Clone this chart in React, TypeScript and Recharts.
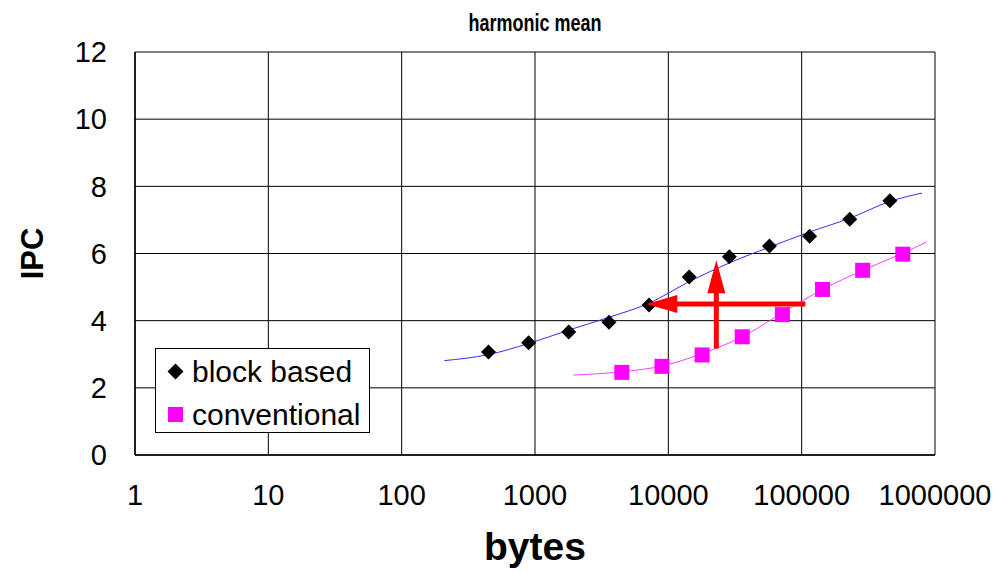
import React from 'react';
import {
  ComposedChart,
  Scatter,
  XAxis,
  YAxis,
  CartesianGrid,
  Legend,
} from 'recharts';

// ---- data ----
const blockX = [448, 896, 1792, 3584, 7168, 14336, 28672, 57344, 114688, 229376, 458752];
const blockY = [3.07, 3.34, 3.66, 3.95, 4.47, 5.3, 5.9, 6.22, 6.51, 7.02, 7.57];

const convX = [4480, 8960, 17920, 35840, 71680, 143360, 286720, 573440];
const convY = [2.46, 2.64, 2.98, 3.52, 4.18, 4.93, 5.5, 5.98];

const blockTrendX = [209, 448, 896, 1792, 3584, 7168, 14336, 28672, 57344, 114688, 229376, 458752, 800000];
const blockTrendY = [2.81, 2.99, 3.32, 3.72, 4.1, 4.52, 5.16, 5.72, 6.19, 6.64, 7.05, 7.55, 7.8];

const convTrendX = [1937, 4480, 8960, 17920, 35840, 71680, 143360, 286720, 573440, 861000];
const convTrendY = [2.38, 2.48, 2.65, 3.02, 3.52, 4.23, 4.93, 5.5, 6.01, 6.34];

// red annotation arrows (data coordinates)
const arrowHShaftX = [106600, 11600];
const arrowHY = 4.5;
const arrowHTipX = 6840;
const arrowVX = 22900;
const arrowVShaftY = [3.17, 4.83];
const arrowVTipY = 5.8;

const xTicks = [1, 10, 100, 1000, 10000, 100000, 1000000];
const yTicks = [0, 2, 4, 6, 8, 10, 12];

const seriesNames = ['block based', 'conventional'];
const titleText = 'harmonic mean';
const xLabel = 'bytes';
const yLabel = 'IPC';

const zip = (xs: number[], ys: number[]) => xs.map((x, i) => ({ x, y: ys[i] }));

const blockData = zip(blockX, blockY);
const convData = zip(convX, convY);
const blockTrend = zip(blockTrendX, blockTrendY);
const convTrend = zip(convTrendX, convTrendY);
const arrowHShaft = arrowHShaftX.map((x) => ({ x, y: arrowHY }));
const arrowHTip = [{ x: arrowHTipX, y: arrowHY }];
const arrowVShaft = arrowVShaftY.map((y) => ({ x: arrowVX, y }));
const arrowVTip = [{ x: arrowVX, y: arrowVTipY }];

const FONT = '"Liberation Sans", Arial, Helvetica, sans-serif';

const Diamond = (props: any) => {
  const { cx, cy } = props;
  if (cx == null || cy == null) return <g />;
  const r = 7.5;
  return (
    <polygon
      points={`${cx},${cy - r} ${cx + r},${cy} ${cx},${cy + r} ${cx - r},${cy}`}
      fill="#000000"
    />
  );
};

const Square = (props: any) => {
  const { cx, cy } = props;
  if (cx == null || cy == null) return <g />;
  const r = 7.5;
  return <rect x={cx - r} y={cy - r} width={2 * r} height={2 * r} fill="#FF00FF" />;
};

const NoShape = () => <g />;

const HeadLeft = (props: any) => {
  const { cx, cy } = props;
  if (cx == null || cy == null) return <g />;
  return <polygon points={`${cx},${cy} ${cx + 31},${cy - 9} ${cx + 31},${cy + 9}`} fill="#FF0000" />;
};

const HeadUp = (props: any) => {
  const { cx, cy } = props;
  if (cx == null || cy == null) return <g />;
  return <polygon points={`${cx},${cy} ${cx - 9},${cy + 33} ${cx + 9},${cy + 33}`} fill="#FF0000" />;
};

const YAxisLabel = (props: any) => {
  const vb = props.viewBox || { x: 0, y: 52, width: 135, height: 403 };
  const cx = vb.x + 32;
  const cy = vb.y + vb.height / 2;
  return (
    <text
      x={cx}
      y={cy}
      transform={`rotate(-90, ${cx}, ${cy})`}
      textAnchor="middle"
      dominantBaseline="central"
      fontFamily={FONT}
      fontWeight="bold"
      fontSize={31}
      fill="#000"
    >
      {yLabel}
    </text>
  );
};

const XAxisLabel = (props: any) => {
  const vb = props.viewBox || { x: 135, y: 455, width: 800, height: 118 };
  return (
    <text
      x={vb.x + vb.width / 2}
      y={vb.y + 105}
      textAnchor="middle"
      fontFamily={FONT}
      fontWeight="bold"
      fontSize={39}
      fill="#000"
    >
      {xLabel}
    </text>
  );
};

const LegendContent = (props: any) => {
  const payload = (props.payload || []).filter((p: any) => seriesNames.includes(p.value));
  return (
    <div
      style={{
        position: 'relative',
        width: 215,
        height: 85,
        background: '#fff',
        border: '1px solid #000',
        boxSizing: 'border-box',
        fontFamily: FONT,
      }}
    >
      {payload.map((p: any, i: number) => (
        <div
          key={p.value}
          style={{
            position: 'absolute',
            left: 11,
            top: 1 + i * 43,
            height: 43,
            display: 'flex',
            alignItems: 'center',
            whiteSpace: 'nowrap',
          }}
        >
          <svg width={17} height={17} style={{ marginRight: 8 }}>
            {p.value === seriesNames[0] ? (
              <polygon points="8.5,0.5 16.5,8.5 8.5,16.5 0.5,8.5" fill="#000" />
            ) : (
              <rect x={1} y={1} width={15} height={15} fill="#FF00FF" />
            )}
          </svg>
          <span style={{ fontSize: 30, lineHeight: '30px', color: '#000' }}>{p.value}</span>
        </div>
      ))}
    </div>
  );
};

export default function App() {
  return (
    <div
      style={{
        position: 'absolute',
        left: 0,
        top: 0,
        width: 998,
        height: 573,
        background: '#fff',
        fontFamily: FONT,
      }}
    >
      <div
        style={{
          position: 'absolute',
          left: 385,
          width: 300,
          top: 11,
          textAlign: 'center',
          fontWeight: 'bold',
          fontSize: 24,
          lineHeight: '24px',
          color: '#000',
          fontFamily: FONT,
          transform: 'scaleX(0.75)',
          transformOrigin: '150px 0',
          zIndex: 2,
        }}
      >
        {titleText}
      </div>
      <ComposedChart
        width={998}
        height={573}
        margin={{ top: 52, right: 63, bottom: 0, left: 0 }}
        style={{ position: 'absolute', left: 0, top: 0 }}
      >
        <CartesianGrid stroke="#000" strokeWidth={1} />
        <XAxis
          type="number"
          dataKey="x"
          scale="log"
          domain={[1, 1000000]}
          allowDataOverflow
          ticks={xTicks}
          interval={0}
          height={118}
          tickSize={0}
          tickMargin={29}
          axisLine={{ stroke: '#000', strokeWidth: 1.5 }}
          tickLine={false}
          tick={{ fill: '#000', fontSize: 29, fontFamily: FONT }}
          label={<XAxisLabel />}
        />
        <YAxis
          type="number"
          dataKey="y"
          domain={[0, 12]}
          allowDataOverflow
          ticks={yTicks}
          interval={0}
          width={135}
          tickSize={0}
          tickMargin={28}
          axisLine={{ stroke: '#000', strokeWidth: 1.5 }}
          tickLine={false}
          tick={{ fill: '#000', fontSize: 29, fontFamily: FONT }}
          label={<YAxisLabel />}
        />
        <Legend
          layout="vertical"
          align="center"
          verticalAlign="middle"
          content={<LegendContent />}
          wrapperStyle={{ position: 'absolute', left: 155, top: 348, width: 215, height: 85 }}
        />
        <Scatter
          name="block trend"
          data={blockTrend}
          line={{ stroke: '#3030FF', strokeWidth: 1 }}
          lineJointType="monotoneX"
          shape={NoShape}
          legendType="none"
          isAnimationActive={false}
        />
        <Scatter
          name="conventional trend"
          data={convTrend}
          line={{ stroke: '#FF40FF', strokeWidth: 1 }}
          lineJointType="monotoneX"
          shape={NoShape}
          legendType="none"
          isAnimationActive={false}
        />
        <Scatter
          name={seriesNames[0]}
          data={blockData}
          fill="#000"
          shape={Diamond}
          isAnimationActive={false}
        />
        <Scatter
          name={seriesNames[1]}
          data={convData}
          fill="#FF00FF"
          shape={Square}
          isAnimationActive={false}
        />
        <Scatter
          name="arrow h"
          data={arrowHShaft}
          line={{ stroke: '#FF0000', strokeWidth: 5 }}
          lineJointType="linear"
          shape={NoShape}
          legendType="none"
          isAnimationActive={false}
        />
        <Scatter
          name="arrow h head"
          data={arrowHTip}
          shape={HeadLeft}
          legendType="none"
          isAnimationActive={false}
        />
        <Scatter
          name="arrow v"
          data={arrowVShaft}
          line={{ stroke: '#FF0000', strokeWidth: 5 }}
          lineJointType="linear"
          shape={NoShape}
          legendType="none"
          isAnimationActive={false}
        />
        <Scatter
          name="arrow v head"
          data={arrowVTip}
          shape={HeadUp}
          legendType="none"
          isAnimationActive={false}
        />
      </ComposedChart>
    </div>
  );
}
